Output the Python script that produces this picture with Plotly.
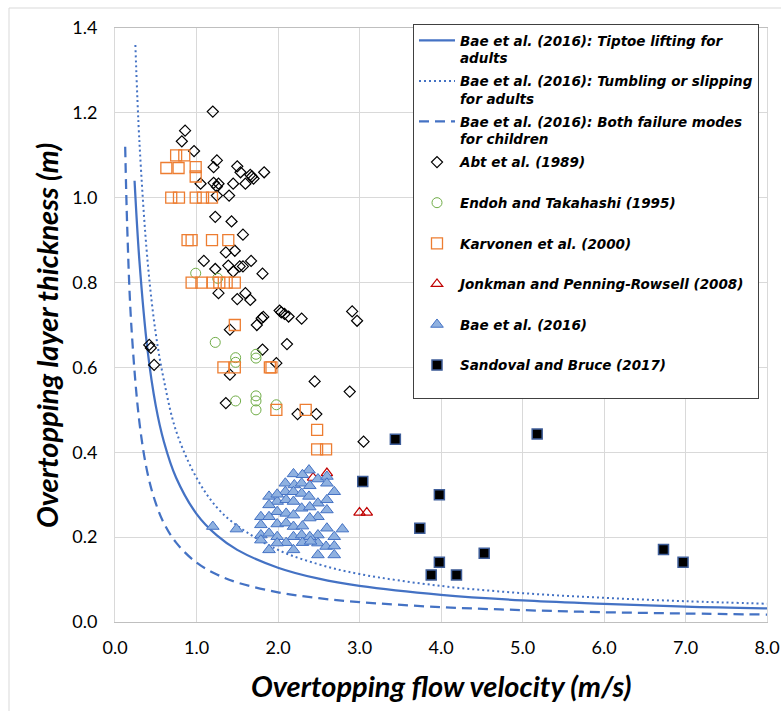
import plotly.graph_objects as go

# ---------------- data ----------------
solid_v = [0.24, 0.3, 0.4, 0.5, 0.6, 0.75, 1.0, 1.25, 1.5, 2.0, 2.5, 3.0, 4.0, 5.0, 6.0, 7.0, 8.0]
solid_h = [1.04, 0.85, 0.64, 0.51, 0.425, 0.34, 0.255, 0.204, 0.17, 0.128, 0.102, 0.085, 0.064, 0.051, 0.043, 0.036, 0.032]

dotted_v = [0.25, 0.3, 0.4, 0.5, 0.6, 0.75, 1.0, 1.25, 1.5, 2.0, 2.5, 3.0, 4.0, 5.0, 6.0, 7.0, 8.0]
dotted_h = [1.36, 1.13, 0.85, 0.68, 0.57, 0.45, 0.34, 0.27, 0.227, 0.17, 0.136, 0.113, 0.085, 0.068, 0.057, 0.049, 0.043]

dashed_v = [0.125, 0.15, 0.2, 0.3, 0.4, 0.5, 0.6, 0.75, 1.0, 1.25, 1.5, 2.0, 2.5, 3.0, 4.0, 5.0, 6.0, 7.0, 8.0]
dashed_h = [1.12, 0.93, 0.70, 0.47, 0.35, 0.28, 0.233, 0.187, 0.14, 0.112, 0.093, 0.07, 0.056, 0.047, 0.035, 0.028, 0.023, 0.020, 0.0175]

abt_v = [1.2, 0.86, 0.82, 0.97, 1.25, 1.21, 1.5, 1.54, 1.66, 1.68, 1.7, 1.83, 1.05, 1.21, 1.27, 1.25,
         1.45, 1.6, 1.25, 1.4, 1.23, 1.43, 1.57, 1.36, 1.47, 1.09, 1.67, 1.81, 1.53, 1.57, 1.45, 1.6,
         1.5, 1.66, 1.74, 1.8, 1.82, 2.02, 2.04, 2.08, 2.13, 2.29, 2.91, 2.97, 1.23, 1.39, 1.27, 1.41,
         1.81, 2.11, 1.41, 1.98, 2.45, 2.88, 1.36, 2.24, 2.47, 3.05, 0.42, 0.44, 0.48]
abt_h = [1.203, 1.158, 1.133, 1.11, 1.088, 1.072, 1.074, 1.06, 1.054, 1.05, 1.045, 1.06, 1.033, 1.035, 1.033, 1.026,
         1.033, 1.033, 1.005, 1.005, 0.955, 0.944, 0.913, 0.871, 0.875, 0.851, 0.851, 0.821, 0.838, 0.838, 0.826, 0.775,
         0.761, 0.759, 0.70, 0.716, 0.719, 0.734, 0.73, 0.726, 0.72, 0.715, 0.732, 0.71, 0.832, 0.84, 0.775, 0.689,
         0.642, 0.655, 0.583, 0.61, 0.567, 0.543, 0.516, 0.49, 0.49, 0.425, 0.653, 0.646, 0.606]

endoh_v = [0.99, 1.26, 1.23, 1.48, 1.48, 1.73, 1.73, 1.48, 1.73, 1.73, 1.73, 1.98]
endoh_h = [0.822, 0.81, 0.659, 0.623, 0.612, 0.631, 0.622, 0.521, 0.533, 0.521, 0.50, 0.512]

karv_v = [0.75, 0.85, 0.63, 0.78, 0.99, 0.99, 0.69, 0.785, 0.99, 1.08, 1.19, 0.89, 0.94, 1.19, 1.39,
          0.94, 1.06, 1.2, 1.28, 1.37, 1.47, 1.47, 1.33, 1.47, 1.9, 1.92, 1.98, 2.34, 2.48, 2.48, 2.59]
karv_h = [1.10, 1.10, 1.07, 1.07, 1.072, 1.05, 1.0, 1.0, 1.0, 1.0, 1.0, 0.90, 0.90, 0.90, 0.90,
          0.80, 0.80, 0.80, 0.80, 0.80, 0.80, 0.70, 0.60, 0.60, 0.60, 0.60, 0.50, 0.50, 0.453, 0.407, 0.407]

jonk_v = [2.6, 2.43, 3.0, 3.09]
jonk_h = [0.351, 0.34, 0.258, 0.258]

bae_v = [1.2, 1.49, 2.38, 2.19, 2.3, 2.49, 2.6, 2.09, 2.2, 2.29, 2.39, 2.6, 2.69, 2.09, 2.19, 2.29,
         2.38, 1.89, 1.99, 2.1, 2.19, 2.49, 2.6, 1.89, 2.29, 2.39, 2.6, 1.99, 2.1, 1.79, 1.89, 2.19,
         2.49, 2.39, 1.79, 1.99, 2.1, 2.19, 2.3, 2.6, 2.79, 1.79, 1.89, 1.99, 2.19, 2.29, 2.49, 2.39,
         2.69, 1.79, 1.89, 2.1, 2.19, 2.3, 2.49, 2.59, 2.69, 2.49, 2.69, 1.99, 2.4, 1.99]
bae_h = [0.225, 0.219, 0.358, 0.349, 0.347, 0.337, 0.343, 0.327, 0.323, 0.327, 0.321, 0.327, 0.307, 0.307, 0.307, 0.303,
         0.296, 0.296, 0.284, 0.288, 0.284, 0.28, 0.288, 0.276, 0.268, 0.271, 0.264, 0.26, 0.256, 0.248, 0.248, 0.252,
         0.248, 0.245, 0.229, 0.231, 0.233, 0.225, 0.226, 0.221, 0.219, 0.205, 0.209, 0.201, 0.201, 0.205, 0.205, 0.201,
         0.201, 0.193, 0.17, 0.187, 0.17, 0.187, 0.186, 0.178, 0.179, 0.158, 0.158, 0.186, 0.19, 0.301]

sand_v = [3.44, 5.18, 3.04, 3.98, 3.74, 4.53, 3.98, 3.88, 4.19, 6.73, 6.97]
sand_h = [0.431, 0.443, 0.331, 0.30, 0.221, 0.162, 0.141, 0.111, 0.111, 0.171, 0.141]

x_ticks = [0, 1, 2, 3, 4, 5, 6, 7, 8]
x_ticklabels = ["0.0", "1.0", "2.0", "3.0", "4.0", "5.0", "6.0", "7.0", "8.0"]
y_ticks = [0, 0.2, 0.4, 0.6, 0.8, 1.0, 1.2, 1.4]
y_ticklabels = ["0.0", "0.2", "0.4", "0.6", "0.8", "1.0", "1.2", "1.4"]

names = [
    "Bae et al. (2016): Tiptoe lifting for<br>adults",
    "Bae et al. (2016): Tumbling or slipping<br>for adults",
    "Bae et al. (2016): Both failure modes<br>for children",
    "Abt et al. (1989)<br> ",
    "Endoh and Takahashi (1995)<br> ",
    "Karvonen et al. (2000)<br> ",
    "Jonkman and Penning-Rowsell (2008)<br> ",
    "Bae et al. (2016)<br> ",
    "Sandoval and Bruce (2017)<br> ",
]

BLUE = "#4472C4"

fig = go.Figure()
fig.add_trace(go.Scatter(x=solid_v, y=solid_h, mode="lines", name=names[0], legendgroup="g0",
                         line=dict(color=BLUE, width=2.25, shape="spline")))
fig.add_trace(go.Scatter(x=dotted_v, y=dotted_h, mode="lines", name=names[1], legendgroup="g1",
                         line=dict(color=BLUE, width=2, dash="2px,3px", shape="spline")))
fig.add_trace(go.Scatter(x=dashed_v, y=dashed_h, mode="lines", name=names[2], legendgroup="g2",
                         line=dict(color=BLUE, width=2.25, dash="10px,6px", shape="spline")))
fig.add_trace(go.Scatter(x=abt_v, y=abt_h, mode="markers", name=names[3], legendgroup="g3",
                         marker=dict(symbol="diamond-open", size=8.5, color="black", line=dict(width=1.2))))
fig.add_trace(go.Scatter(x=endoh_v, y=endoh_h, mode="markers", name=names[4], legendgroup="g4",
                         marker=dict(symbol="circle-open", size=10, color="#70AD47", line=dict(width=1))))
fig.add_trace(go.Scatter(x=karv_v, y=karv_h, mode="markers", name=names[5], legendgroup="g5",
                         marker=dict(symbol="square-open", size=11, color="#ED7D31", line=dict(width=1.3))))
fig.add_trace(go.Scatter(x=jonk_v, y=jonk_h, mode="markers", name=names[6], legendgroup="g6",
                         marker=dict(symbol="triangle-up-open", size=10, color="#C00000", line=dict(width=1.2))))
fig.add_trace(go.Scatter(x=bae_v, y=bae_h, mode="markers", name=names[7], legendgroup="g7",
                         marker=dict(symbol="triangle-up", size=11, color="#8FB1E0",
                                     line=dict(color=BLUE, width=1))))
fig.add_trace(go.Scatter(x=sand_v, y=sand_h, mode="markers", name=names[8], legendgroup="g8",
                         marker=dict(symbol="square", size=10, color="black",
                                     line=dict(color="#3F5E99", width=1.5))))

PL, PR, PT, PB = 115, 767, 28, 622
W, H = 781, 711
pw, ph = PR - PL, PB - PT

def px_x(x):
    return (x - PL) / pw

def px_y(y):
    return (PB - y) / ph

fig.update_layout(
    width=W, height=H,
    margin=dict(l=PL, r=W - PR, t=PT, b=H - PB, autoexpand=False),
    paper_bgcolor="white", plot_bgcolor="white",
    font=dict(family="Lato", color="black"),
    showlegend=True,
    legend=dict(
        x=px_x(413), y=px_y(24), xanchor="left", yanchor="top",
        bgcolor="white", bordercolor="#404040", borderwidth=1,
        font=dict(family="DejaVu Sans", size=13.5, color="black", weight="bold", style="italic"),
        valign="top", itemwidth=36, tracegroupgap=2.5, traceorder="grouped",
    ),
    xaxis=dict(range=[0, 8], tickvals=x_ticks, ticktext=x_ticklabels,
               showgrid=True, gridcolor="#D9D9D9", gridwidth=1,
               showline=True, linecolor="#BFBFBF", linewidth=1, mirror=True,
               zeroline=False, ticks="", ticklabelstandoff=9,
               tickfont=dict(family="Lato", size=18, color="black")),
    yaxis=dict(range=[0, 1.4], tickvals=y_ticks, ticktext=y_ticklabels,
               showgrid=True, gridcolor="#D9D9D9", gridwidth=1,
               showline=True, linecolor="#D9D9D9", linewidth=1, mirror=True,
               zeroline=False, ticks="", ticklabelstandoff=13,
               tickfont=dict(family="Lato", size=18, color="black")),
    annotations=[
        dict(text="Overtopping flow velocity (m/s)", xref="paper", yref="paper",
             x=px_x(441), y=px_y(685), xanchor="center", yanchor="middle", showarrow=False,
             font=dict(family="Lato", size=29, color="black", weight="bold", style="italic")),
        dict(text="Overtopping layer thickness (m)", xref="paper", yref="paper",
             x=px_x(46), y=px_y(336), xanchor="center", yanchor="middle", showarrow=False,
             textangle=-90,
             font=dict(family="Lato", size=29, color="black", weight="bold", style="italic")),
    ],
    shapes=[
        dict(type="rect", xref="paper", yref="paper", x0=px_x(9), x1=px_x(790),
             y0=px_y(720), y1=px_y(8), line=dict(color="#D9D9D9", width=1), layer="below"),
    ],
)

try:
    fig.update_layout(legend_maxheight=650)
except Exception:
    pass

fig.write_html("out.html")
